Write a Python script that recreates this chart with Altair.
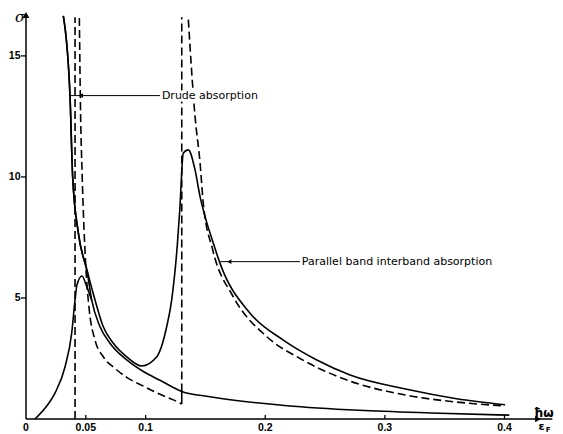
import altair as alt
import pandas as pd

# ---- data (x = hbar*omega/eF, y = sigma) ----
drude_x = [0.0312, 0.0368, 0.0390, 0.0437, 0.0513, 0.0549, 0.0619, 0.0702, 0.0842, 0.0981, 0.1120, 0.1302, 0.1538, 0.2182, 0.2784, 0.3386, 0.4040]
drude_y = [16.65, 13.32, 10.01, 7.69, 6.03, 4.92, 3.81, 3.13, 2.44, 1.96, 1.60, 1.14, 0.92, 0.55, 0.36, 0.25, 0.16]

total_x = [0.0312, 0.0368, 0.0390, 0.0437, 0.0513, 0.0577, 0.0646, 0.0730, 0.0842, 0.0967, 0.1093, 0.1176, 0.1218, 0.1265, 0.1285, 0.1315, 0.1357, 0.1413, 0.1455, 0.1497, 0.1566, 0.1622, 0.1873, 0.2151, 0.2431, 0.2709, 0.3183, 0.3600, 0.4005]
total_y = [16.65, 13.32, 10.01, 7.72, 6.10, 4.92, 3.81, 3.13, 2.57, 2.19, 2.57, 3.81, 4.92, 7.20, 8.60, 10.99, 11.12, 10.29, 9.19, 8.36, 7.26, 6.43, 4.37, 3.26, 2.44, 1.82, 1.23, 0.84, 0.59]

peak1_x = [0.0075, 0.0160, 0.0242, 0.0326, 0.0382, 0.0410, 0.0426, 0.0468, 0.0508, 0.0549]
peak1_y = [0.00, 0.45, 1.07, 2.15, 3.55, 4.92, 5.54, 5.91, 5.47, 4.92]

sharp1_x = [0.0446, 0.0455, 0.0470, 0.0500, 0.0529, 0.0577, 0.0646, 0.0744, 0.0842, 0.0981, 0.1120, 0.1232, 0.1302]
sharp1_y = [16.57, 13.00, 10.00, 6.30, 4.50, 3.26, 2.57, 2.09, 1.72, 1.36, 1.02, 0.79, 0.62]

sharp2_x = [0.1357, 0.1413, 0.1455, 0.1482, 0.1560, 0.1734, 0.2013, 0.2291, 0.2660, 0.3183, 0.3600, 0.4005]
sharp2_y = [16.50, 12.50, 10.58, 8.91, 7.00, 5.04, 3.40, 2.50, 1.65, 0.98, 0.70, 0.54]

edge_x = [0.041, 0.1302]          # vertical dashed edges
edge_lo = [0.00, 1.14]
edge_hi = [16.6, 16.6]
step_x = [0.1302]                 # small jump at the upper edge
step_lo = [0.62]
step_hi = [1.14]

x_ticks = [0, 0.05, 0.1, 0.2, 0.3, 0.4]
x_tick_labels = ["0", "0.05", "0.1", "0.2", "0.3", "0.4"]
y_ticks = [5, 10, 15]
y_tick_labels = ["5", "10", "15"]

labels = ["Drude absorption", "Parallel band interband absorption"]

XMAX, YMAX = 0.428, 16.69
W, H = 512, 404
FONT = "DejaVu Sans"
TICKFONT = "Liberation Sans"

xs = alt.Scale(domain=[0, XMAX], nice=False, zero=False)
ys = alt.Scale(domain=[0, YMAX], nice=False, zero=False)
DASH = [8, 4]


def X(f):
    return alt.X(f, scale=xs, axis=None)


def Y(f):
    return alt.Y(f, scale=ys, axis=None)


def line(xv, yv, dash=None):
    df = pd.DataFrame({"x": xv, "y": yv})
    kw = {"strokeDash": dash} if dash else {}
    return alt.Chart(df).mark_line(color="black", strokeWidth=1.6, interpolate="monotone", **kw).encode(
        x=X("x:Q"), y=Y("y:Q"))


# axis lines
axes_df = pd.DataFrame({"x0": [0.0, 0.0], "x1": [0.0, XMAX], "y0": [0.0, 0.0], "y1": [YMAX, 0.0]})
axis_lines = alt.Chart(axes_df).mark_rule(color="black", strokeWidth=1.5).encode(
    x=X("x0:Q"), x2="x1:Q", y=Y("y0:Q"), y2="y1:Q")

# y ticks (outward) and labels
yt_df = pd.DataFrame({"y": y_ticks, "lab": y_tick_labels})
y_tick_marks = alt.Chart(yt_df).mark_rule(color="black", strokeWidth=1.3).encode(
    y=Y("y:Q"), x=alt.value(-5), x2=alt.value(0))
y_tick_text = alt.Chart(yt_df).mark_text(align="right", baseline="middle", font=TICKFONT, fontWeight="bold",
                                         fontSize=10.5, color="black").encode(
    y=Y("y:Q"), x=alt.value(-5.5), text="lab:N")

# x ticks (upward) and labels
xt_df = pd.DataFrame({"x": x_ticks, "lab": x_tick_labels})
x_tick_marks = alt.Chart(xt_df[xt_df.x > 0]).mark_rule(color="black", strokeWidth=1.3).encode(
    x=X("x:Q"), y=alt.value(H), y2=alt.value(H - 4))
x_tick_text = alt.Chart(xt_df).mark_text(align="center", baseline="top", font=TICKFONT, fontWeight="bold",
                                         fontSize=10.5, color="black").encode(
    x=X("x:Q"), y=alt.value(H + 4), text="lab:N")

edges = alt.Chart(pd.DataFrame({"x": edge_x, "lo": edge_lo, "hi": edge_hi})).mark_rule(
    color="black", strokeWidth=1.6, strokeDash=DASH).encode(x=X("x:Q"), y=Y("lo:Q"), y2="hi:Q")
step = alt.Chart(pd.DataFrame({"x": step_x, "lo": step_lo, "hi": step_hi})).mark_rule(
    color="black", strokeWidth=1.6).encode(x=X("x:Q"), y=Y("lo:Q"), y2="hi:Q")

# axis arrowheads
arr_df = pd.DataFrame({"x": [0.0, XMAX], "y": [YMAX, 0.0], "shape": ["triangle-up", "triangle-right"]})
arrows = alt.Chart(arr_df).mark_point(filled=True, color="black", size=45, opacity=1).encode(
    x=X("x:Q"), y=Y("y:Q"), shape=alt.Shape("shape:N", scale=None, legend=None))

# annotations
ann_df = pd.DataFrame({
    "x0": [0.0359, 0.1620], "x1": [0.1120, 0.2290], "y": [13.36, 6.50],
    "tx": [0.1136, 0.2306], "label": labels, "ax": [0.0460, 0.1700]})
ptr = alt.Chart(ann_df).mark_rule(color="black", strokeWidth=1).encode(x=X("x0:Q"), x2="x1:Q", y=Y("y:Q"))
ptr_head = alt.Chart(ann_df).mark_point(shape="triangle-left", filled=True, color="black", size=22,
                                        opacity=1).encode(x=X("ax:Q"), y=Y("y:Q"))
ann_halo = alt.Chart(ann_df).mark_text(align="left", baseline="middle", font=FONT, fontSize=11,
                                       color="white", stroke="white", strokeWidth=5).encode(
    x=X("tx:Q"), y=Y("y:Q"), text="label:N")
ann_txt = alt.Chart(ann_df).mark_text(align="left", baseline="middle", font=FONT, fontSize=11,
                                      color="black").encode(x=X("tx:Q"), y=Y("y:Q"), text="label:N")

sigma = alt.Chart(pd.DataFrame({"x": [-0.0050], "y": [16.40], "t": ["σ"]})).mark_text(
    font="DejaVu Serif", fontStyle="italic", fontSize=15, align="center", baseline="alphabetic",
    color="black").encode(x=X("x:Q"), y=Y("y:Q"), text="t:N")

num = alt.Chart(pd.DataFrame({"x": [0.4328], "y": [0.10], "t": ["ħω"]})).mark_text(
    font=FONT, fontWeight="bold", fontSize=12, align="center", baseline="alphabetic", color="black").encode(
    x=X("x:Q"), y=Y("y:Q"), text="t:N")
bar = alt.Chart(pd.DataFrame({"x0": [0.4262], "x1": [0.4400], "y": [0.0]})).mark_rule(
    color="black", strokeWidth=1.5).encode(x=X("x0:Q"), x2="x1:Q", y=Y("y:Q"))
den = alt.Chart(pd.DataFrame({"x": [0.4310], "y": [-0.08], "t": ["ε"]})).mark_text(
    font=FONT, fontWeight="bold", fontSize=11, align="center", baseline="top", color="black").encode(
    x=X("x:Q"), y=Y("y:Q"), text="t:N")
sub = alt.Chart(pd.DataFrame({"x": [0.4364], "y": [-0.28], "t": ["F"]})).mark_text(
    font=FONT, fontWeight="bold", fontSize=7, align="center", baseline="top", color="black").encode(
    x=X("x:Q"), y=Y("y:Q"), text="t:N")

chart = alt.layer(
    axis_lines, y_tick_marks, y_tick_text, x_tick_marks, x_tick_text, edges, step,
    line(drude_x, drude_y), line(total_x, total_y), line(peak1_x, peak1_y),
    line(sharp1_x, sharp1_y, DASH), line(sharp2_x, sharp2_y, DASH),
    ptr, ptr_head, ann_halo, ann_txt, arrows, sigma, num, bar, den, sub,
).properties(
    width=W, height=H,
    padding={"left": 18, "top": 7, "right": 17, "bottom": 18},
    autosize=alt.AutoSizeParams(type="none"),
    background="white",
).configure_view(stroke=None)

chart.save("out.html", embed_options={"renderer": "svg", "actions": False})
